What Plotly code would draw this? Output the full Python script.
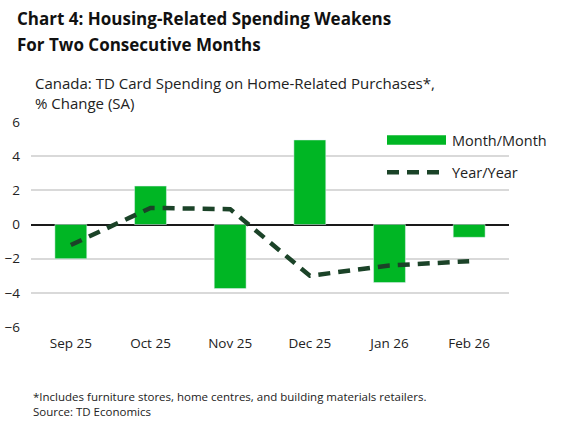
import plotly.graph_objects as go

months = ["Sep 25", "Oct 25", "Nov 25", "Dec 25", "Jan 26", "Feb 26"]
mom = [-2.0, 2.25, -3.75, 4.95, -3.4, -0.75]
yoy = [-1.2, 0.97, 0.9, -3.0, -2.4, -2.15]
y_ticks = [-6, -4, -2, 0, 2, 4, 6]

BAR = "#00B624"
LINE = "#1B4328"
FONT = "'Open Sans', Roboto, sans-serif"

L, R, T, B = 31, 509, 121.7, 326.7
W, H = R - L, B - T

def px(x):
    return (x - L) / W

def py(y):
    return (B - y) / H

fig = go.Figure()
fig.add_trace(go.Bar(x=months, y=mom, name="Month/Month", marker_color=BAR,
                     width=0.4, showlegend=False))
fig.add_trace(go.Scatter(x=months, y=yoy, name="Year/Year", mode="lines",
                         line=dict(color=LINE, width=4.5, dash="12px,8px"),
                         showlegend=False))

fig.update_layout(
    width=579, height=432,
    margin=dict(l=L, r=579 - R, t=T, b=432 - B, autoexpand=False),
    paper_bgcolor="white", plot_bgcolor="white",
    font=dict(family=FONT, size=14, color="#222"),
    xaxis=dict(type="category", showgrid=False, showline=False, ticks="",
               tickfont=dict(size=13.5, color="#222"), range=[-0.5, 5.5],
               automargin=False, ticklabelstandoff=6),
    yaxis=dict(range=[-6, 6], tickvals=y_ticks, showgrid=True, gridcolor="#D9D9D9",
               gridwidth=2, zeroline=True, zerolinecolor="#1A1A1A", zerolinewidth=2,
               ticks="", tickfont=dict(size=13.5, color="#222"), ticklabelstandoff=10,
               automargin=False),
)

# custom legend
fig.add_shape(type="rect", xref="paper", yref="paper", x0=px(387), x1=px(446),
              y0=py(144.5), y1=py(135), fillcolor=BAR, line_width=0)
fig.add_shape(type="line", xref="paper", yref="paper", x0=px(387), x1=px(439),
              y0=py(172), y1=py(172),
              line=dict(color=LINE, width=4.5, dash="12px,8px"))
fig.add_annotation(xref="paper", yref="paper", x=px(450), y=py(140),
                   text="Month/Month", showarrow=False, xanchor="left", yanchor="middle",
                   font=dict(size=14.5, color="#222"))
fig.add_annotation(xref="paper", yref="paper", x=px(450), y=py(172),
                   text="Year/Year", showarrow=False, xanchor="left", yanchor="middle",
                   font=dict(size=14.5, color="#222"))

# titles
fig.add_annotation(xref="paper", yref="paper", x=px(15), y=py(18),
                   text="<b>Chart 4: Housing-Related Spending Weakens</b>",
                   showarrow=False, xanchor="left", yanchor="middle",
                   font=dict(size=17, color="#111"))
fig.add_annotation(xref="paper", yref="paper", x=px(15), y=py(44),
                   text="<b>For Two Consecutive Months</b>",
                   showarrow=False, xanchor="left", yanchor="middle",
                   font=dict(size=17, color="#111"))
fig.add_annotation(xref="paper", yref="paper", x=px(33), y=py(93),
                   text="Canada: TD Card Spending on Home-Related Purchases*,<br>% Change (SA)",
                   showarrow=False, xanchor="left", yanchor="middle", align="left",
                   font=dict(size=15, color="#222"))
fig.add_annotation(xref="paper", yref="paper", x=px(31), y=py(404),
                   text="*Includes furniture stores, home centres, and building materials retailers.<br>Source: TD Economics",
                   showarrow=False, xanchor="left", yanchor="middle", align="left",
                   font=dict(size=11.5, color="#222"))

fig.write_html("out.html", post_script="document.body.style.margin='0';",
               config={"displayModeBar": False})
